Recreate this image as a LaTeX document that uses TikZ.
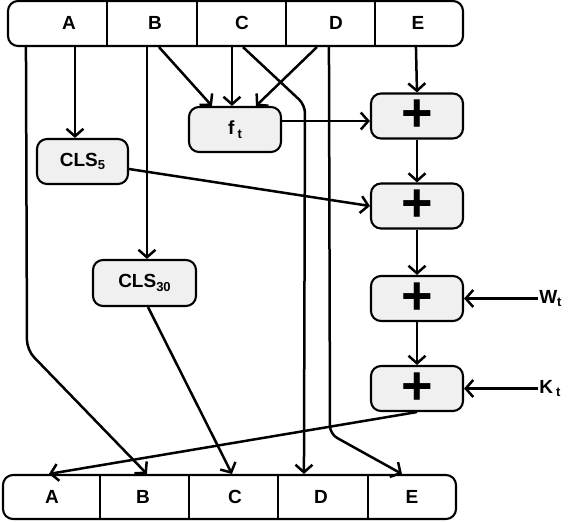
\documentclass[tikz,border=0pt]{standalone}
\usepackage{fontspec}
\setmainfont{Liberation Sans}
\usetikzlibrary{arrows.meta}
\definecolor{boxgray}{HTML}{F0F0F0}
\newcommand{\sbs}[1]{\raisebox{-3.5pt}{\fontsize{13}{13}\selectfont #1}}
\begin{document}
\begin{tikzpicture}[x=1pt,y=-1pt,
  line width=2.5pt,
  arr/.style={-{Straight Barb[length=7.5pt,width=17pt,line width=2.5pt]}},
  bar/.style={draw, rounded corners=10pt, line width=2.1pt, inner sep=0pt},
  op/.style={draw, fill=boxgray, rounded corners=10pt, line width=2.1pt,
    minimum width=92pt, minimum height=45pt, inner sep=0pt,
    font=\bfseries\fontsize{19}{19}\selectfont},
  lab/.style={font=\bfseries\fontsize{19}{19}\selectfont, inner sep=0pt},
  plus/.style={op, font=\bfseries\fontsize{54}{54}\selectfont},
]
\useasboundingbox (0,0) rectangle (574,522);

% top register
\node[bar, minimum width=455pt, minimum height=45pt] (top) at (235.5,23.5) {};
\foreach \x in {107,197,286,375} \draw[line width=2.1pt] (\x,1) -- (\x,46);
\node[lab] (tA) at (69,23) {A};
\node[lab] (tB) at (155,23) {B};
\node[lab] (tC) at (242,23) {C};
\node[lab] (tD) at (336,23) {D};
\node[lab] (tE) at (418,23) {E};

% bottom register
\node[bar, minimum width=453pt, minimum height=44pt] (bot) at (229.5,497) {};
\foreach \x in {100,189,278,368} \draw[line width=2.1pt] (\x,475) -- (\x,519);
\node[lab] (bA) at (52,497) {A};
\node[lab] (bB) at (143,497) {B};
\node[lab] (bC) at (235,497) {C};
\node[lab] (bD) at (321,497) {D};
\node[lab] (bE) at (412,497) {E};

% function boxes
\node[op] (ft) at (235,129.5) {f\,\sbs{t}};
\node[op, minimum width=91pt] (c5) at (82.5,161.5) {CLS\sbs{5}};
\node[op, minimum width=103pt, minimum height=46pt] (c30) at (144.5,283) {CLS\sbs{30}};

% adders
\node[plus] (p1) at (417,116) {+};
\node[plus] (p2) at (417,206) {+};
\node[plus] (p3) at (417,298.5) {+};
\node[plus] (p4) at (417,388.5) {+};

% external inputs
\node[lab, anchor=west] (W) at (538,298.5) {W\sbs{t}};
\node[lab, anchor=west] (K) at (538,388.5) {K\,\sbs{t}};

% bend points
\coordinate (bendL) at (27,350);
\coordinate (bendC) at (305,105);
\coordinate (bendD) at (330,434);

% connectors
\draw[arr, rounded corners=10pt] ([xshift=19pt]top.south west) -- (bendL) -- ([xshift=145pt]bot.north west);
\draw[arr] ([xshift=68pt]top.south west) -- ([xshift=68pt]top.south west |- c5.north);
\draw[arr] ([xshift=140pt]top.south west) -- ([xshift=140pt]top.south west |- c30.north);
\draw[arr] ([xshift=152pt]top.south west) -- ([xshift=24pt]ft.north west);
\draw[arr] ([xshift=225pt]top.south west) -- ([xshift=44pt]ft.north west);
\draw[arr, rounded corners=8pt] ([xshift=236pt]top.south west) -- (bendC) -- ([xshift=302pt]bot.north west);
\draw[arr] ([xshift=310pt]top.south west) -- ([xshift=68pt]ft.north west);
\draw[arr, rounded corners=8pt] ([xshift=322pt]top.south west) -- (bendD) -- ([xshift=400pt]bot.north west);
\draw[arr] ([xshift=409pt]top.south west) -- (p1.north);

\draw[arr] ([yshift=8.5pt]ft.east) -- ([yshift=8.5pt]ft.east -| p1.west);
\draw[arr] ([yshift=-7.5pt]c5.east) -- (p2.west);
\draw[arr] (p1.south) -- (p2.north);
\draw[arr] (p2.south) -- (p3.north);
\draw[arr] (p3.south) -- (p4.north);
\draw[arr] (W.west) -- (p3.east);
\draw[arr] (K.west) -- (p4.east);
\draw[arr] ([xshift=3.5pt]c30.south) -- ([xshift=230pt]bot.north west);
\draw[arr] (p4.south) -- ([xshift=47pt]bot.north west);
\end{tikzpicture}
\end{document}
